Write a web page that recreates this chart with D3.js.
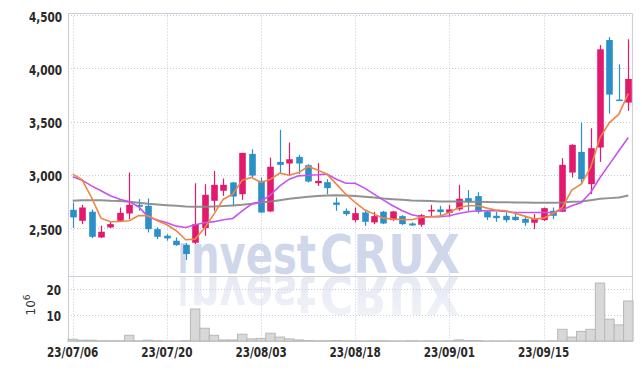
<!DOCTYPE html>
<html><head><meta charset="utf-8">
<script src="https://cdn.jsdelivr.net/npm/d3@7"></script>
<style>body{margin:0;background:#fff}svg{display:block}</style>
</head><body><svg id="c" width="642" height="370" xmlns:xlink="http://www.w3.org/1999/xlink"></svg>
<script>
const dates = ["23/07/06","23/07/07","23/07/10","23/07/11","23/07/12","23/07/13","23/07/14","23/07/17","23/07/18","23/07/19",
"23/07/20","23/07/21","23/07/24","23/07/25","23/07/26","23/07/27","23/07/28","23/07/31","23/08/01","23/08/02",
"23/08/03","23/08/04","23/08/07","23/08/08","23/08/09","23/08/10","23/08/11","23/08/14","23/08/16","23/08/17",
"23/08/18","23/08/21","23/08/22","23/08/23","23/08/24","23/08/25","23/08/28","23/08/29","23/08/30","23/08/31",
"23/09/01","23/09/04","23/09/05","23/09/06","23/09/07","23/09/08","23/09/11","23/09/12","23/09/13","23/09/14",
"23/09/15","23/09/18","23/09/19","23/09/20","23/09/21","23/09/22","23/09/25","23/09/26","23/09/27","23/10/04"];
const open  = [2671,2568,2653,2412,2506,2568,2637,2718,2709,2490, 2428,2381,2343,2362,2500,2756,2850,2928,2818,3196,
               2943,2656,3121,3106,3168,3090,2921,2931,2740,2662, 2575,2646,2553,2653,2575,2612,2543,2531,2656,2675,
               2643,2675,2781,2800,2656,2615,2615,2606,2587,2550, 2575,2662,2653,3021,3215,2912,3256,4265,3706,3678];
const high  = [2740,2718,2675,2522,2562,2693,3021,2772,2778,2506, 2443,2412,2359,2921,2912,3037,2965,2934,3206,3240,
               2975,3162,3422,3303,3187,3100,3109,2959,2787,2684, 2693,2662,2653,2662,2662,2621,2553,2631,2718,2709,
               2718,2906,2856,2837,2662,2653,2646,2653,2606,2631, 2693,2693,3156,3287,3490,3437,4218,4293,4037,4272];
const low   = [2500,2537,2406,2406,2500,2562,2584,2662,2459,2396, 2381,2334,2200,2350,2428,2662,2803,2709,2765,2975,
               2640,2650,3006,2990,3006,2928,2896,2818,2662,2615, 2553,2521,2537,2537,2568,2528,2521,2512,2606,2606,
               2606,2662,2662,2637,2575,2559,2553,2568,2521,2490, 2568,2584,2650,2975,2912,2818,3121,3574,3700,3600];
const close = [2600,2693,2418,2465,2537,2643,2718,2700,2490,2418, 2403,2340,2256,2537,2812,2906,2906,2796,3206,2993,
               2646,3075,3093,3146,3106,2937,2943,2875,2718,2631, 2640,2559,2612,2543,2656,2537,2525,2621,2671,2650,
               2675,2775,2743,2653,2600,2593,2575,2575,2550,2590, 2687,2615,3093,3281,2959,3250,4178,3753,3700,3900];
const volume = [0.65,0.3,0.3,0.1,0.1,0.1,2.2,0.1,0.3,0.15, 0.05,0.05,0.15,12.3,4.9,2.2,0.4,0.4,2.6,0.8,
                1.0,3.0,1.5,0.8,0.4,0.15,0.1,0.1,0.2,0.1, 0.1,0.05,0.1,0.1,0.05,0.05,0.1,0.05,0.1,0.05,
                0.1,0.4,0.2,0.15,0.05,0.05,0.05,0.05,0.05,0.1, 0.05,0.1,4.5,1.5,3.7,4.5,22.3,8.4,6.2,15.4];
const ma5  = [3006,2953,2787,2593,2559,2562,2568,2618,2615,2568, 2531,2475,2390,2396,2500,2631,2771,2818,2950,2975,
              2928,2959,3015,2996,3021,3078,3046,3006,2912,2818, 2740,2671,2631,2593,2584,2581,2578,2600,2606,2612,
              2646,2693,2709,2709,2687,2668,2662,2637,2612,2584, 2593,2637,2693,2856,2912,3068,3349,3490,3569,3762];
const ma20 = [2981,2950,2896,2850,2803,2771,2746,2700,2606,2575, 2550,2518,2506,2531,2550,2560,2578,2590,2662,2725,
              2750,2812,2896,2959,2990,2996,3000,3006,2959,2921, 2921,2875,2818,2762,2709,2662,2625,2606,2606,2606,
              2615,2637,2653,2662,2662,2662,2656,2646,2646,2646, 2646,2646,2671,2709,2740,2834,2975,3100,3225,3350];
const ma60 = [2756,2762,2762,2762,2756,2753,2746,2737,2728,2721, 2715,2709,2703,2700,2700,2703,2706,2712,2718,2728,
              2740,2750,2762,2775,2784,2793,2800,2806,2809,2806, 2800,2793,2787,2778,2771,2765,2759,2756,2753,2750,
              2750,2750,2748,2746,2745,2743,2742,2740,2740,2738, 2737,2737,2740,2746,2750,2762,2775,2781,2787,2806];
const priceTicks = [2500,3000,3500,4000,4500];
const volTicks = [10,20];
const dateTicks = ["23/07/06","23/07/20","23/08/03","23/08/18","23/09/01","23/09/15"];
const watermarkParts = ["I","nvest","CRUX"];

const svg = d3.select("#c");
const L=68, R=632.5, T=13.5, MB=276.5, B=341.5;
const x = d3.scalePoint().domain(dates).range([68,633]).padding(0.5);
const y = d3.scaleLinear().domain([2050,4500]).range([276,15]);
const yv = d3.scaleLinear().domain([0,25]).range([341,276]);
const bw = 6.6;
const RED="#e2196c", BLUE="#2b8fc8";
const labelFont = "'DejaVu Sans Condensed','DejaVu Sans',sans-serif";
const SX = 0.83;

// grid
const grid = svg.append("g").attr("stroke","#c3c9de").attr("stroke-dasharray","1,2").attr("stroke-width",1);
grid.selectAll("line.h").data(priceTicks).join("line")
  .attr("x1",L).attr("x2",R).attr("y1",d=>Math.round(y(d))+0.5).attr("y2",d=>Math.round(y(d))+0.5);
grid.selectAll("line.v").data(volTicks).join("line")
  .attr("x1",L).attr("x2",R).attr("y1",d=>Math.round(yv(d))+0.5).attr("y2",d=>Math.round(yv(d))+0.5);
grid.selectAll("line.d").data(dateTicks).join("line")
  .attr("x1",d=>Math.round(x(d))+0.5).attr("x2",d=>Math.round(x(d))+0.5).attr("y1",T).attr("y2",B);

// watermark (text once, reflection via <use>)
const wmG = svg.append("g").attr("id","wm").attr("font-family","'DejaVu Sans',sans-serif")
  .attr("font-weight","bold").attr("fill","#d1d7ea");
const wmLayout = [{x:178,len:10,fs:40},{x:191,len:125,fs:54},{x:320,len:140,fs:54}];
watermarkParts.forEach((s,i)=>{
  const tx = wmG.append("text").attr("x",0).attr("y",0).attr("font-size",wmLayout[i].fs).text(s);
  const nat = tx.node().getComputedTextLength();
  tx.attr("transform",`translate(${wmLayout[i].x},273) scale(${wmLayout[i].len/nat},1)`);
});
const defs = svg.append("defs");
const grad = defs.append("linearGradient").attr("id","fade").attr("x1",0).attr("x2",0).attr("y1",0).attr("y2",1);
grad.append("stop").attr("offset","0%").attr("stop-color","#fff").attr("stop-opacity",1);
grad.append("stop").attr("offset","100%").attr("stop-color","#fff").attr("stop-opacity",0.5);
const msk = defs.append("mask").attr("id","m").attr("maskUnits","userSpaceOnUse")
  .attr("x",0).attr("y",276).attr("width",642).attr("height",50);
msk.append("rect").attr("x",0).attr("y",276).attr("width",642).attr("height",50).attr("fill","url(#fade)");
svg.append("g").attr("mask","url(#m)")
  .append("g").attr("transform","translate(0,549) scale(1,-1)").attr("opacity",0.55)
  .append("use").attr("href","#wm").attr("xlink:href","#wm");

// frame
const fr = svg.append("g").attr("stroke","#cfd0d6").attr("stroke-width",1.2).attr("fill","none");
fr.append("line").attr("x1",L).attr("x2",R).attr("y1",T).attr("y2",T);
fr.append("line").attr("x1",L).attr("x2",R).attr("y1",MB).attr("y2",MB);
fr.append("line").attr("x1",L).attr("x2",R).attr("y1",B).attr("y2",B);
fr.append("line").attr("x1",L+0.5).attr("x2",L+0.5).attr("y1",T).attr("y2",B);
fr.append("line").attr("x1",R).attr("x2",R).attr("y1",T).attr("y2",B);

// volume
svg.append("g").selectAll("rect").data(dates).join("rect")
  .attr("x",d=>x(d)-x.step()/2).attr("width",x.step())
  .attr("y",(d,i)=>yv(volume[i])).attr("height",(d,i)=>Math.max(0,yv(0)-yv(volume[i])))
  .attr("fill","#d8d8d8").attr("stroke","#b8b8b8").attr("stroke-width",1);

// candles
const cg = svg.append("g");
dates.forEach((d,i)=>{
  const up = close[i]>=open[i];
  const col = up?RED:BLUE;
  const cx = Math.round(x(d))+0.5;
  cg.append("line").attr("x1",cx).attr("x2",cx).attr("y1",y(high[i])).attr("y2",y(low[i]))
    .attr("stroke",col).attr("stroke-width",1.2);
  const top = y(Math.max(open[i],close[i])), bot = y(Math.min(open[i],close[i]));
  cg.append("rect").attr("x",cx-bw/2).attr("width",bw).attr("y",top).attr("height",Math.max(1.5,bot-top))
    .attr("fill",col);
});

// moving averages
const line = arr => d3.line().x((d,i)=>x(dates[i])).y(d=>y(d))(arr);
svg.append("path").attr("d",line(ma60)).attr("fill","none").attr("stroke","#868686").attr("stroke-width",2).attr("stroke-opacity",0.9);
svg.append("path").attr("d",line(ma20)).attr("fill","none").attr("stroke","#c653ee").attr("stroke-width",1.6);
svg.append("path").attr("d",line(ma5)).attr("fill","none").attr("stroke","#ef8545").attr("stroke-width",1.6);

// labels
const lab = svg.append("g").attr("font-family",labelFont).attr("font-weight","bold").attr("fill","#2a2a2a").attr("font-size",14);
lab.selectAll("text.p").data(priceTicks).join("text")
  .attr("transform",d=>`translate(62,${y(d)+6.5}) scale(${SX},1)`).attr("text-anchor","end").text(d3.format(","));
lab.selectAll("text.v").data(volTicks).join("text")
  .attr("transform",d=>`translate(61,${yv(d)+5.5}) scale(${SX},1)`).attr("text-anchor","end").text(d=>d);
lab.selectAll("text.d").data(dateTicks).join("text")
  .attr("transform",d=>`translate(${x(d)},357) scale(${SX},1)`).attr("text-anchor","middle").text(d=>d);
const ex = svg.append("text").attr("transform","translate(35,305) rotate(-90)")
  .attr("font-family","'DejaVu Sans',sans-serif").attr("font-size",12).attr("fill","#333").attr("text-anchor","middle");
ex.append("tspan").text("10");
ex.append("tspan").attr("dy",-5).attr("font-size",9).text("6");
</script></body></html>
